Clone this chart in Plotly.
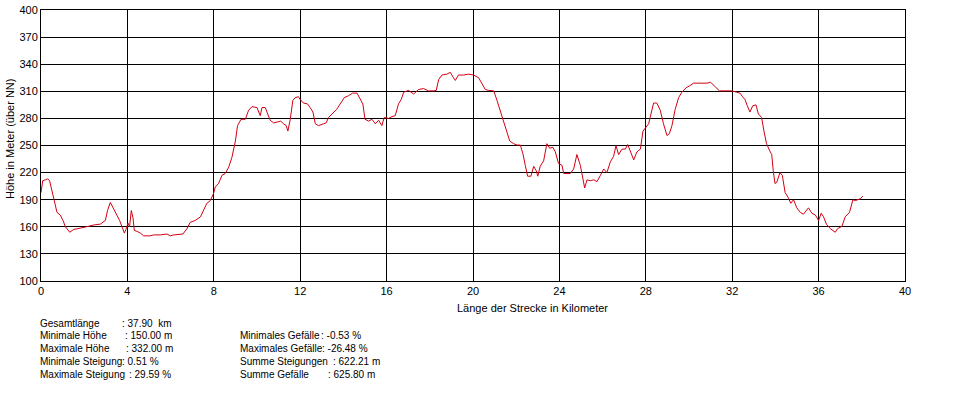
import plotly.graph_objects as go

km = [0.0, 0.08, 0.2, 0.31, 0.4, 0.51, 0.62, 0.74, 0.89, 1.02, 1.13, 1.33, 1.51, 1.82, 2.10,
      2.44, 2.75, 2.98, 3.08, 3.21, 3.36, 3.52, 3.64, 3.75, 3.86, 3.93, 4.03, 4.10, 4.18,
      4.26, 4.32, 4.44, 4.60, 4.75, 5.06, 5.21, 5.52, 5.83, 5.99, 6.14, 6.57, 6.76, 6.91,
      7.14, 7.38, 7.68, 7.84, 7.99, 8.07, 8.22, 8.38, 8.53, 8.69, 8.84, 9.0, 9.1, 9.26,
      9.46, 9.61, 9.77, 10.0, 10.15, 10.23, 10.38, 10.61, 10.77, 10.99, 11.1, 11.23, 11.35,
      11.43, 11.54, 11.66, 11.77, 11.92, 12.0, 12.15, 12.34, 12.46, 12.59, 12.70, 12.85,
      13.08, 13.2, 13.31, 13.46, 13.69, 13.85, 14.04, 14.23, 14.43, 14.63, 14.75, 14.9,
      15.0, 15.17, 15.32, 15.48, 15.63, 15.78, 15.89, 16.09, 16.25, 16.40, 16.55, 16.68,
      16.79, 17.02, 17.25, 17.48, 17.71, 17.94, 18.18, 18.30, 18.41, 18.56, 18.79, 18.95,
      19.07, 19.18, 19.33, 19.57, 19.8, 20.03, 20.26, 20.41, 20.57, 20.72, 20.96, 21.11,
      21.26, 21.42, 21.57, 21.7, 21.88, 22.04, 22.19, 22.31, 22.42, 22.53, 22.68, 22.81,
      22.93, 23.0, 23.11, 23.27, 23.42, 23.55, 23.7, 23.81, 23.96, 24.12, 24.2, 24.35,
      24.5, 24.66, 24.81, 24.97, 25.09, 25.17, 25.28, 25.43, 25.59, 25.74, 25.9, 26.05,
      26.2, 26.36, 26.51, 26.62, 26.74, 26.9, 27.05, 27.16, 27.28, 27.44, 27.59, 27.75,
      27.87, 28.02, 28.13, 28.2, 28.36, 28.51, 28.67, 28.82, 28.98, 29.09, 29.21, 29.36,
      29.52, 29.67, 29.87, 30.03, 30.21, 30.52, 30.83, 31.0, 31.14, 31.29, 31.41, 31.6,
      31.98, 32.2, 32.36, 32.48, 32.59, 32.7, 32.82, 32.95, 33.1, 33.21, 33.36, 33.47,
      33.59, 33.72, 33.83, 33.9, 33.98, 34.06, 34.21, 34.32, 34.45, 34.6, 34.71, 34.84,
      34.99, 35.15, 35.3, 35.53, 35.69, 35.85, 36.0, 36.12, 36.23, 36.36, 36.54, 36.77,
      36.88, 37.08, 37.23, 37.43, 37.59, 37.7, 37.8, 37.93, 38.05]
hoehe = [198, 211, 212, 213, 211, 200, 189, 176, 173, 167, 160, 154, 157, 159, 160,
         162, 163, 167, 178, 187, 180, 173, 167, 160, 153, 157, 164, 160, 178,
         170, 156, 155, 153, 150, 150, 151, 151, 152, 150, 151, 152, 158, 165,
         167, 171, 186, 189, 197, 204, 208, 217, 219, 226, 237, 255, 272, 279,
         279, 289, 293, 292, 283, 292, 292, 278, 275, 276, 277, 274, 272,
         266, 279, 300, 303, 304, 301, 297, 296, 292, 287, 274, 272,
         274, 275, 281, 285, 290, 296, 303, 305, 308, 308, 303, 296,
         279, 277, 279, 274, 278, 272, 281, 280, 282, 283, 296, 301,
         309, 311, 307, 312, 313, 310.5, 310.5, 311, 323, 328, 329, 331,
         326, 322, 328, 328, 329, 328, 325, 318, 312, 311, 310.5, 300,
         289, 278, 266, 255, 252, 250.5, 250.5, 241, 228, 216, 216, 227,
         222, 216, 227, 233, 252, 247, 248, 243, 230, 228, 219, 219,
         219, 224, 240, 228, 211, 203, 212, 211, 212, 210, 217, 224,
         220, 232, 238, 250, 240, 246, 246, 251, 244, 234, 243, 246,
         266, 271, 274, 281, 297, 297, 289, 274, 261, 263, 272, 290,
         303, 309, 314, 316, 319, 319, 319, 320, 317, 314, 310.5, 310.5,
         310.5, 309, 308, 304, 301, 294, 287, 294, 295, 285, 281, 266,
         252, 245, 240, 222, 208, 209, 220, 217, 198, 192, 186, 190,
         181, 176, 174, 181, 175, 173, 167, 175, 171, 163, 158, 154,
         158, 160.5, 171, 176, 190, 189, 190, 191, 194]

x_ticks = list(range(0, 41, 4))
y_ticks = list(range(100, 401, 30))

x_title = "Länge der Strecke in Kilometer"
y_title = "Höhe in Meter (über NN)"

stat_labels_left = ["Gesamtlänge", "Minimale Höhe", "Maximale Höhe", "Minimale Steigung", "Maximale Steigung"]
stat_values_left = [": 37.90  km", ": 150.00 m", ": 332.00 m", ": 0.51 %", ": 29.59 %"]
stat_labels_right = ["Minimales Gefälle", "Maximales Gefälle", "Summe Steigungen", "Summe Gefälle"]
stat_values_right = [": -0.53 %", ": -26.48 %", ": 622.21 m", ": 625.80 m"]

FONT = "Liberation Sans, Arial, sans-serif"
FS = 10
W, H = 955, 412
ML, MR, MT, MB = 41, 50, 10, 131

fig = go.Figure()
fig.add_trace(go.Scatter(x=km, y=hoehe, mode="lines",
                         line=dict(color="#d40012", width=1), hoverinfo="skip"))

axis_common = dict(showgrid=True, gridcolor="black", gridwidth=1, automargin=False,
                   showline=True, linecolor="black", linewidth=1, mirror=True,
                   zeroline=False, ticks="", tickfont=dict(family=FONT, size=11, color="black"))
fig.update_xaxes(range=[0, 40], tickvals=x_ticks, ticktext=[str(t) for t in x_ticks], **axis_common)
fig.update_yaxes(range=[100, 400], tickvals=y_ticks, ticktext=[str(t) for t in y_ticks], **axis_common)

annotations = []
def px_to_paper(px, py):
    return (px - ML) / (W - ML - MR), 1 - (py - MT) / (H - MT - MB)

def add_text(px, py, text, anchor="left", angle=0, size=FS):
    ax, ay = px_to_paper(px, py)
    annotations.append(dict(x=ax, y=ay, xref="paper", yref="paper", text=text, showarrow=False,
                            textangle=angle, font=dict(family=FONT, size=size, color="black"),
                            xanchor=anchor, yanchor="middle", borderpad=0, borderwidth=0))

add_text(532, 308, x_title, anchor="center", size=11)
add_text(10, 139, y_title, anchor="center", angle=-90, size=11)

left_rows_y = [323, 335.5, 348, 361, 374]
left_value_x = [122, 125, 125.5, 121.5, 129]
for i, (lab, val) in enumerate(zip(stat_labels_left, stat_values_left)):
    add_text(40, left_rows_y[i], lab)
    add_text(left_value_x[i], left_rows_y[i], val)

right_rows_y = [335.5, 348, 361, 374]
right_value_x = [321, 322, 332.5, 327.5]
for i, (lab, val) in enumerate(zip(stat_labels_right, stat_values_right)):
    add_text(240, right_rows_y[i], lab)
    add_text(right_value_x[i], right_rows_y[i], val)

fig.update_layout(width=W, height=H, margin=dict(l=ML, r=MR, t=MT, b=MB, pad=0),
                  paper_bgcolor="white", plot_bgcolor="white", showlegend=False,
                  annotations=annotations, font=dict(family=FONT, size=11, color="black"))

fig.write_html("out.html", config={"displayModeBar": False, "staticPlot": True},
               post_script="document.body.style.margin='0';document.body.style.overflow='hidden';")
